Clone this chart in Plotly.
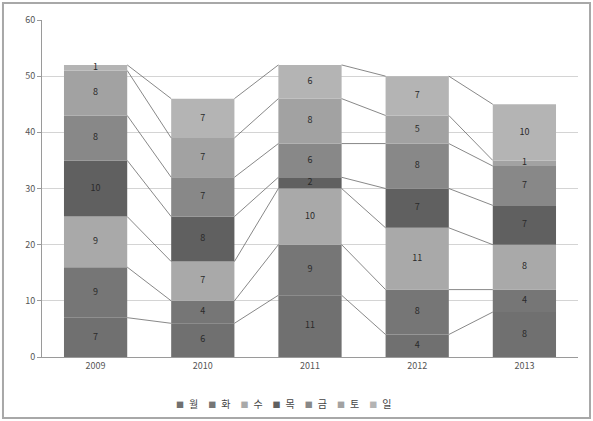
import plotly.graph_objects as go

years = ["2009", "2010", "2011", "2012", "2013"]
series_names = ["월", "화", "수", "목", "금", "토", "일"]
mon = [7, 6, 11, 4, 8]
tue = [9, 4, 9, 8, 4]
wed = [9, 7, 10, 11, 8]
thu = [10, 8, 2, 7, 7]
fri = [8, 7, 6, 8, 7]
sat = [8, 7, 8, 5, 1]
sun = [1, 7, 6, 7, 10]
series_values = [mon, tue, wed, thu, fri, sat, sun]
colors = ["#707070", "#767676", "#a9a9a9", "#606060", "#888888", "#a2a2a2", "#b4b4b4"]

W = 0.59
xs = list(range(len(years)))
fig = go.Figure()

base = [0] * len(years)
cums = []
for name, vals, col in zip(series_names, series_values, colors):
    fig.add_trace(go.Bar(x=xs, y=vals, base=base, width=W, marker=dict(color=col, line=dict(width=0)),
                         name=name, showlegend=False, hoverinfo="skip"))
    mids = [b + v / 2 for b, v in zip(base, vals)]
    fig.add_trace(go.Scatter(x=xs, y=mids, mode="text", text=[str(v) for v in vals],
                             textfont=dict(size=9, color="#2a2a2a", family="Noto Sans CJK KR"),
                             showlegend=False, hoverinfo="skip"))
    base = [b + v for b, v in zip(base, vals)]
    cums.append(list(base))

# series lines
for cum in cums:
    lx, ly = [], []
    for i in range(len(years) - 1):
        lx += [i + W / 2, i + 1 - W / 2, None]
        ly += [cum[i], cum[i + 1], None]
    fig.add_trace(go.Scatter(x=lx, y=ly, mode="lines", line=dict(color="#6a6a6a", width=0.8),
                             showlegend=False, hoverinfo="skip"))

# compact legend (Excel-style) as one text line
legend_text = "\u2002\u2002".join(
    f"<span style='color:{c};font-size:8px'>■</span>\u2002{n}" for n, c in zip(series_names, colors)
)

fig.update_layout(
    width=593, height=421,
    barmode="overlay",
    margin=dict(l=42, r=15, t=20, b=64),
    paper_bgcolor="white", plot_bgcolor="white",
    font=dict(family="Noto Sans CJK KR", size=9, color="#555555"),
    showlegend=False,
    annotations=[dict(text=legend_text, xref="paper", yref="paper",
                      x=(283 - 42) / 536, y=(357 - 403) / 337, xanchor="center", yanchor="middle",
                      showarrow=False, font=dict(size=10, color="#444444"))],
    xaxis=dict(range=[-0.5, 4.5], tickvals=xs, ticktext=years, showgrid=False,
               showline=True, linecolor="#9a9a9a", linewidth=1, ticks="", zeroline=False,
               tickfont=dict(size=9, color="#555555")),
    yaxis=dict(range=[0, 60], dtick=10, showgrid=True, gridcolor="#d4d4d4", gridwidth=1,
               showline=True, linecolor="#9a9a9a", linewidth=1, ticks="outside", ticklen=4,
               tickcolor="#9a9a9a", zeroline=False, tickfont=dict(size=9, color="#555555")),
    shapes=[dict(type="rect", xref="paper", yref="paper", x0=-0.0728, x1=1.0224,
                 y0=-0.181, y1=1.0504, line=dict(color="#a8a8a8", width=2), fillcolor="rgba(0,0,0,0)")],
)

fig.write_html("out.html")
